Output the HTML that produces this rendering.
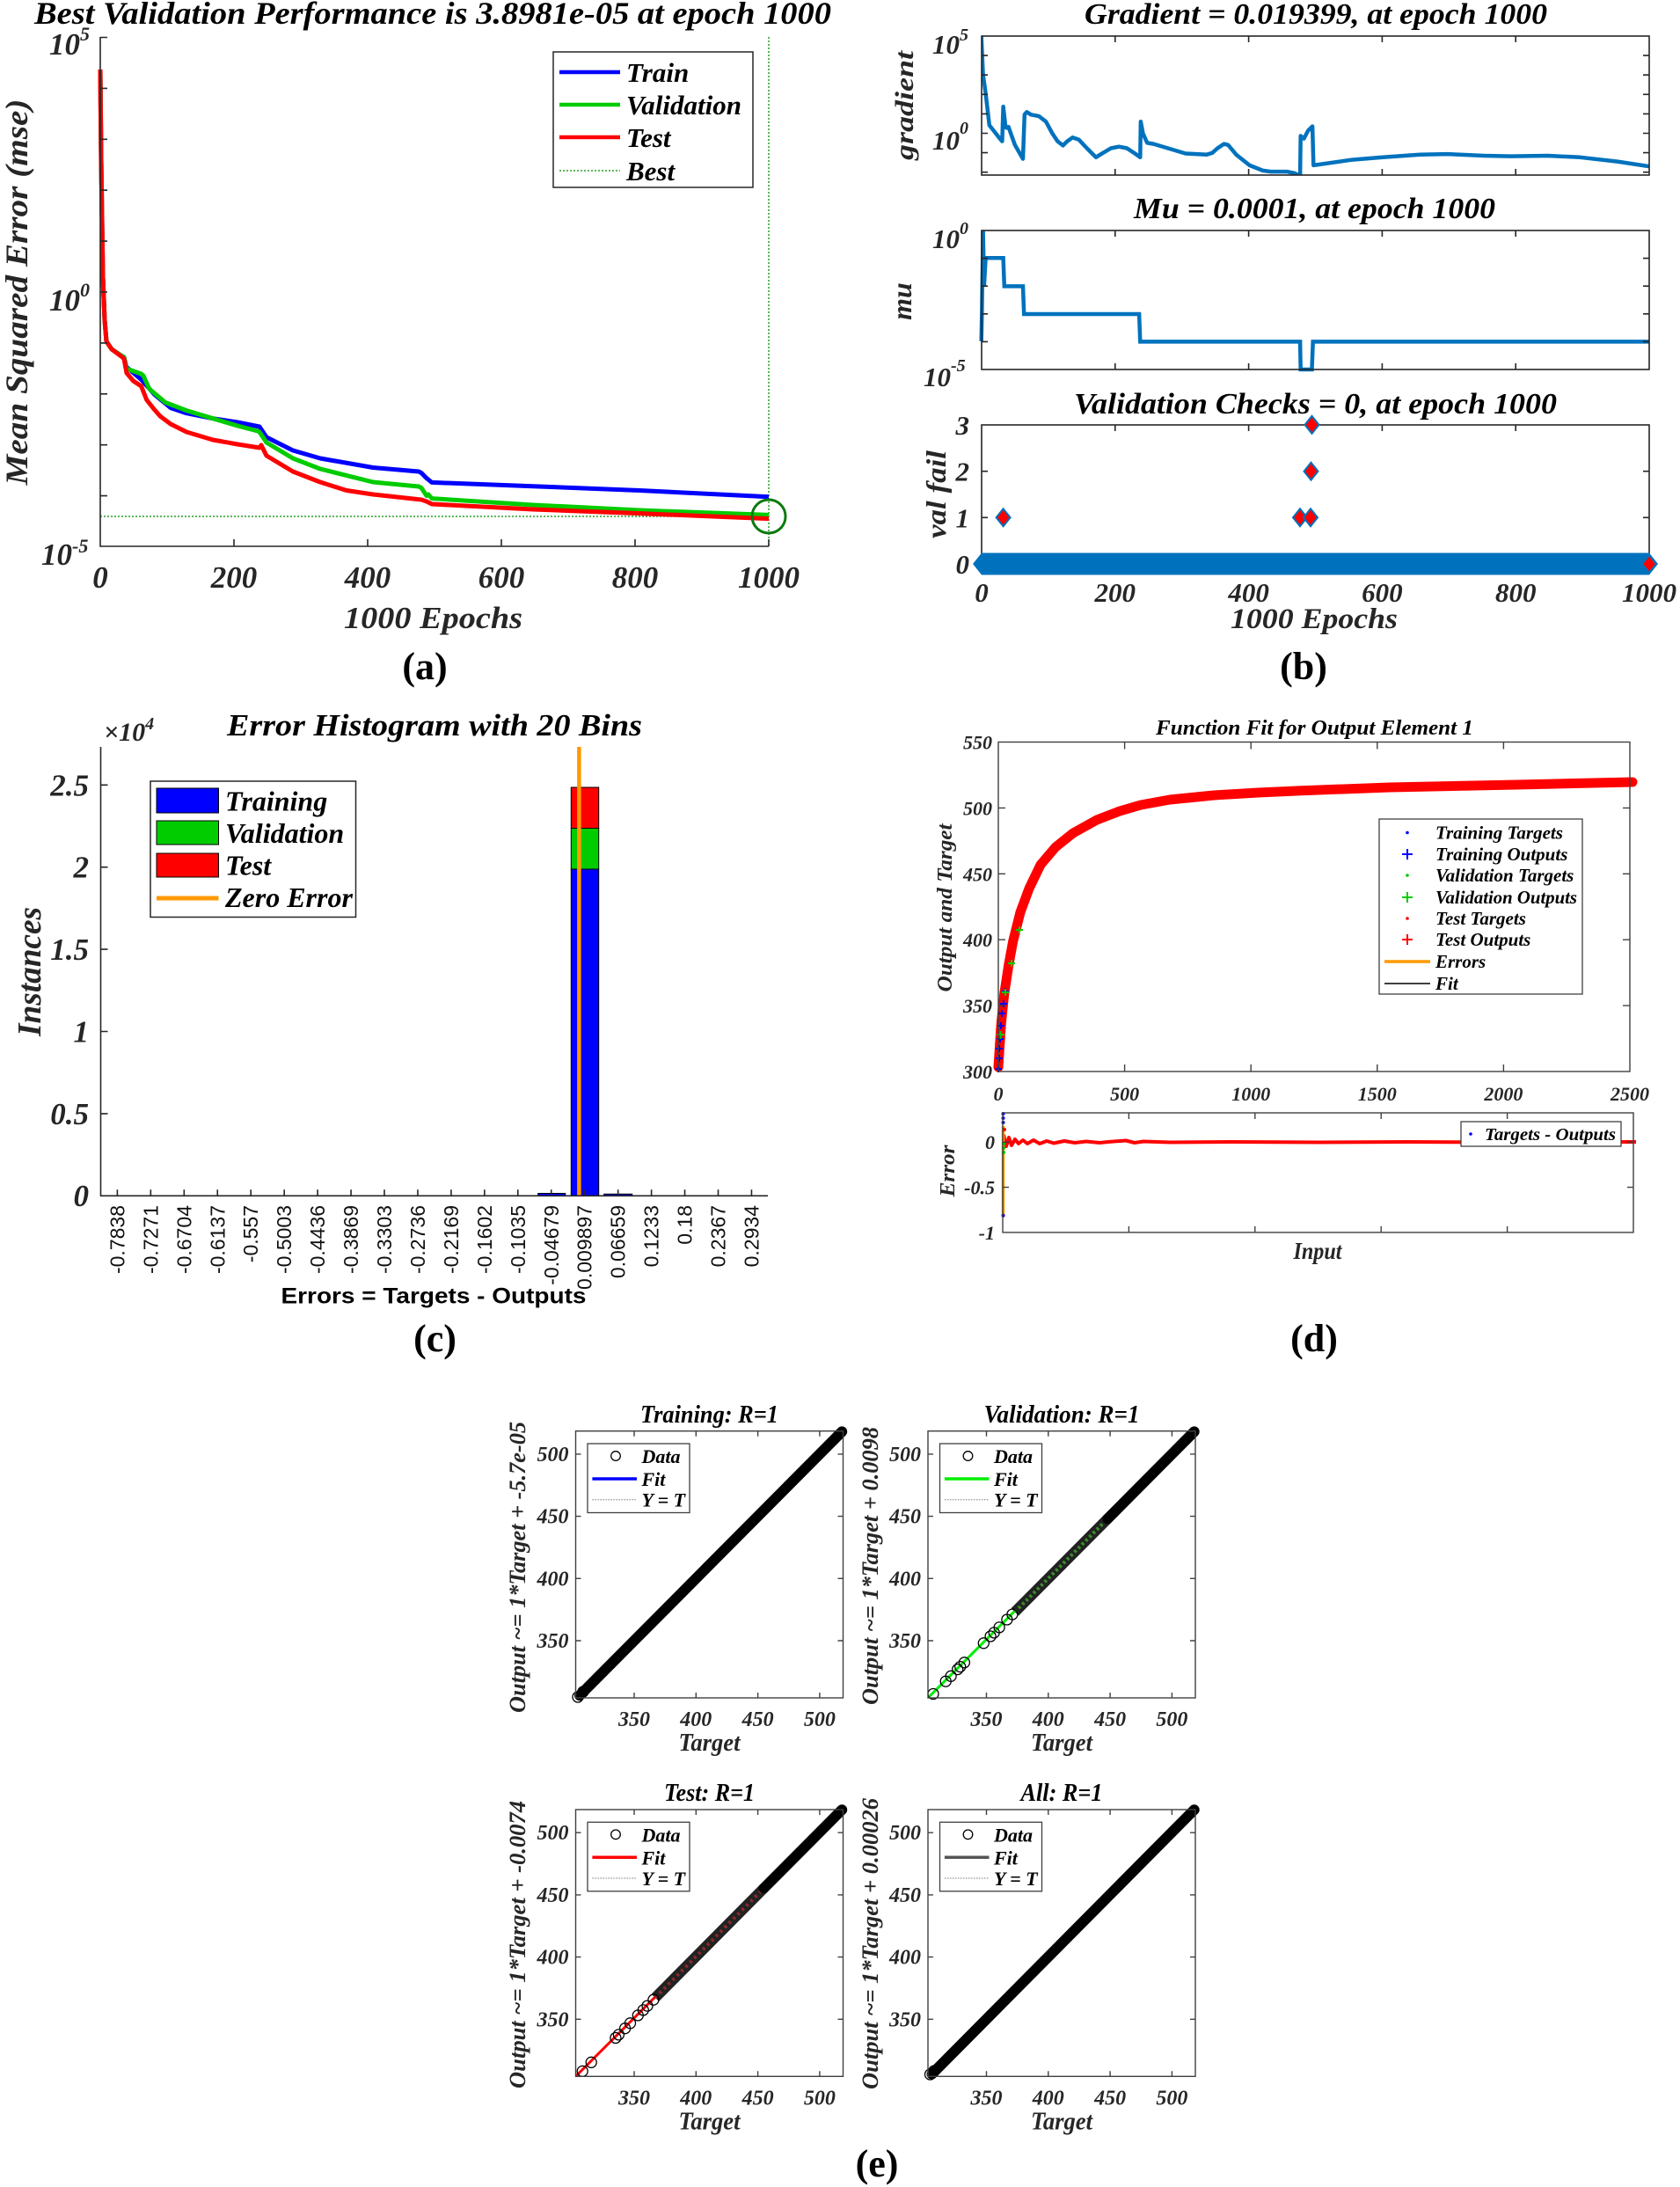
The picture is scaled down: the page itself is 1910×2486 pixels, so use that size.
<!DOCTYPE html>
<html><head><meta charset="utf-8"><style>
html,body{margin:0;padding:0;background:#fff;}
svg{display:block;}
.s{font-family:"Liberation Serif","DejaVu Serif",serif;font-weight:bold;font-style:italic;}
.r{font-family:"Liberation Serif","DejaVu Serif",serif;font-weight:bold;}
.a{font-family:"Liberation Sans",Arial,sans-serif;}
.k{fill:#262626;}
.ax{stroke:#262626;stroke-width:1.6;fill:none;}
.bx{stroke:#404040;stroke-width:1.4;fill:none;}
</style></head><body>
<svg width="1910" height="2486" viewBox="0 0 1910 2486" xmlns="http://www.w3.org/2000/svg">
<rect width="1910" height="2486" fill="#fff"/>
<defs>
<clipPath id="cg"><rect x="1116" y="41" width="759" height="158"/></clipPath>
<clipPath id="cTR"><rect x="1055" y="1626.7" width="304" height="303.3"/></clipPath>
<clipPath id="cBL"><rect x="654.5" y="2057" width="304" height="303.3"/></clipPath>
</defs>

<!-- ================= PANEL (a) ================= -->
<text class="s" x="492" y="27" font-size="36" text-anchor="middle" textLength="906" lengthAdjust="spacingAndGlyphs">Best Validation Performance is 3.8981e-05 at epoch 1000</text>
<line x1="114" y1="587" x2="874" y2="587" stroke="#22a022" stroke-width="1.5" stroke-dasharray="2,2"/>
<line x1="874" y1="42" x2="874" y2="621" stroke="#22a022" stroke-width="1.5" stroke-dasharray="2,2"/>
<polyline fill="none" stroke="#0000ff" stroke-width="5" stroke-linejoin="round" points="114,79 115,182 117,315 119,364 121,388 127,397 139,405 141,406 143.6,417 160.6,431.5 175.7,448.4 194,463.6 212,469.7 242,475.7 270,480 295,485 303,497 333,512 364,521 424,531.5 476,536 479,537.5 485,543.6 491,548.4 606,552.7 727,557.5 874,564.8"/>
<polyline fill="none" stroke="#00cc00" stroke-width="5" stroke-linejoin="round" points="114,79 115,182 117,315 119,364 121,388 127,397 139,405 141,406 143.6,419 160.6,425 163,427 169.7,442 188,457.5 212,466.6 242,475.7 270,484 293,490 295,491 303,503 333,521 364,533 424,548 476,553 479,554.5 485,563.6 487,562 491,566.6 606,574 727,580 874,585.4"/>
<polyline fill="none" stroke="#ff0000" stroke-width="5" stroke-linejoin="round" points="114,79 115,182 117,315 119,364 121,388 127,397 139,406 141,408 144,424 151.5,433 160.6,439 166.7,454.5 175,465 182,473 194,482 212,491 242,500 270,505 295,509 297,506 303,518 333,536 364,548 394,557.5 424,562 479,568 485,570 491,573 606,579 727,583.6 874,589.6"/>
<circle cx="874" cy="587" r="19" fill="none" stroke="#0b7a0b" stroke-width="3"/>
<path class="ax" d="M114 42V621H874"/>
<path class="ax" d="M114 42.5h8M114 100.4h8M114 158.3h8M114 216.2h8M114 274.1h8M114 332h8M114 389.9h8M114 447.8h8M114 505.7h8M114 563.6h8M266 621v-8M418 621v-8M570 621v-8M722 621v-8M874 621v-8"/>
<text class="s k" x="91" y="62" font-size="35" text-anchor="end">10</text>
<text class="s k" x="91" y="46" font-size="22">5</text>
<text class="s k" x="91" y="353" font-size="35" text-anchor="end">10</text>
<text class="s k" x="91" y="337" font-size="22">0</text>
<text class="s k" x="82" y="642" font-size="35" text-anchor="end">10</text>
<text class="s k" x="82" y="628" font-size="22">-5</text>
<g class="s k" font-size="35" text-anchor="middle">
<text x="114" y="668">0</text><text x="266" y="668">200</text><text x="418" y="668">400</text><text x="570" y="668">600</text><text x="722" y="668">800</text><text x="874" y="668">1000</text>
</g>
<text class="s k" x="492.5" y="714" font-size="35" text-anchor="middle" textLength="203" lengthAdjust="spacingAndGlyphs">1000 Epochs</text>
<text class="s k" transform="translate(31,332) rotate(-90)" font-size="36" text-anchor="middle" textLength="439" lengthAdjust="spacingAndGlyphs">Mean Squared Error  (mse)</text>
<text class="r" x="483" y="772" font-size="44" text-anchor="middle">(a)</text>
<rect x="629" y="59" width="227" height="154" fill="#fff" stroke="#262626" stroke-width="1.5"/>
<line x1="636" y1="82" x2="705" y2="82" stroke="#0000ff" stroke-width="4.5"/>
<line x1="636" y1="119" x2="705" y2="119" stroke="#00cc00" stroke-width="4.5"/>
<line x1="636" y1="156" x2="705" y2="156" stroke="#ff0000" stroke-width="4.5"/>
<line x1="636" y1="194" x2="705" y2="194" stroke="#22a022" stroke-width="1.5" stroke-dasharray="2,2"/>
<g class="s" font-size="31">
<text x="712" y="93">Train</text><text x="712" y="130">Validation</text><text x="712" y="167">Test</text><text x="712" y="205">Best</text>
</g>

<!-- ================= PANEL (b) ================= -->
<text class="s" x="1496" y="27" font-size="34" text-anchor="middle" textLength="526" lengthAdjust="spacingAndGlyphs">Gradient = 0.019399, at epoch 1000</text>
<polyline clip-path="url(#cg)" fill="none" stroke="#0072bd" stroke-width="4.5" stroke-linejoin="round" points="1115.7,41.2 1117.6,84.8 1120.6,106 1124.8,142.4 1129.7,148.5 1135.7,156.3 1139.4,160.6 1140.6,121.2 1143,142.4 1144.2,145.4 1146.6,144.2 1149.1,151.5 1153.9,164.8 1163,180.6 1164.8,130.3 1167.3,127.3 1172.1,130.3 1181.2,132.1 1189.1,138.2 1196.3,151.5 1202.4,160.6 1208.5,165.4 1213.3,160.6 1219.4,156.3 1226.6,158.8 1235.7,168.5 1246,178.8 1250.9,175.7 1263,168.5 1272.1,166.7 1281.2,168.5 1290.3,174.5 1296.3,178.8 1296.9,138.2 1299.4,151.5 1304.2,162.4 1311.5,163.6 1347.8,174.5 1372.1,175.7 1378.1,173.9 1384.2,168.5 1391.5,163.6 1396.3,164.8 1405.4,175.7 1420.6,187.9 1435.7,193.9 1444.8,195.1 1463,195.1 1472.1,197 1478.1,200 1478.7,154.5 1482.4,157.6 1487.2,148.5 1492.1,143.6 1493.3,187.9 1535.7,181.8 1572.1,178.8 1614.5,175.7 1644.8,175.1 1687.2,177 1717.5,177.6 1760,177 1796.3,178.8 1838.7,183.6 1875,189.1"/>
<rect x="1116" y="41" width="759" height="158" class="ax"/>
<path class="ax" d="M1267.8 41v7M1419.6 41v7M1571.4 41v7M1723.2 41v7M1267.8 199v-7M1419.6 199v-7M1571.4 199v-7M1723.2 199v-7M1116 63.1h7M1116 85.2h7M1116 107.3h7M1116 129.4h7M1116 151.5h7M1116 173.6h7M1116 195.7h7M1875 63.1h-7M1875 85.2h-7M1875 107.3h-7M1875 129.4h-7M1875 151.5h-7M1875 173.6h-7M1875 195.7h-7"/>
<text class="s k" x="1091" y="61" font-size="31" text-anchor="end">10</text>
<text class="s k" x="1091" y="46" font-size="20">5</text>
<text class="s k" x="1091" y="170" font-size="31" text-anchor="end">10</text>
<text class="s k" x="1091" y="152" font-size="20">0</text>
<text class="s k" transform="translate(1038,120) rotate(-90)" font-size="30" text-anchor="middle" textLength="124" lengthAdjust="spacingAndGlyphs">gradient</text>

<text class="s" x="1494.5" y="248" font-size="34" text-anchor="middle" textLength="411" lengthAdjust="spacingAndGlyphs">Mu = 0.0001, at epoch 1000</text>
<polyline fill="none" stroke="#0072bd" stroke-width="4.5" points="1115.7,387.8 1116.3,357.5 1117.6,262.4 1118.8,325.4 1120.6,293.3 1140.6,293.3 1141.8,325.4 1163,325.4 1164.2,357 1295.1,357 1296.3,388.4 1478.1,388.4 1478.7,420 1491.5,420 1492.7,388.4 1875,388.4"/>
<rect x="1116" y="262" width="759" height="158" class="ax"/>
<path class="ax" d="M1267.8 262v7M1419.6 262v7M1571.4 262v7M1723.2 262v7M1267.8 420v-7M1419.6 420v-7M1571.4 420v-7M1723.2 420v-7M1116 293.6h7M1116 325.2h7M1116 356.8h7M1116 388.4h7M1875 293.6h-7M1875 325.2h-7M1875 356.8h-7M1875 388.4h-7"/>
<text class="s k" x="1091" y="282" font-size="31" text-anchor="end">10</text>
<text class="s k" x="1091" y="266" font-size="20">0</text>
<text class="s k" x="1081" y="439" font-size="31" text-anchor="end">10</text>
<text class="s k" x="1081" y="422" font-size="20">-5</text>
<text class="s k" transform="translate(1036,342.5) rotate(-90)" font-size="32" text-anchor="middle">mu</text>

<text class="s" x="1495.5" y="470" font-size="34" text-anchor="middle" textLength="549" lengthAdjust="spacingAndGlyphs">Validation Checks = 0, at epoch 1000</text>
<rect x="1116" y="483" width="759" height="158" class="ax"/>
<path class="ax" d="M1267.8 483v7M1419.6 483v7M1571.4 483v7M1723.2 483v7M1116 535.7h7M1116 588.3h7M1875 535.7h-7M1875 588.3h-7"/>
<polygon points="1106,641 1116,628.5 1875,628.5 1885,641 1875,653.5 1116,653.5" fill="#0072bd"/>
<g fill="#ff0000" stroke="#0072bd" stroke-width="2">
<path d="M1140.6 578.3L1148.6 588.3L1140.6 598.3L1132.6 588.3Z"/>
<path d="M1478 578.3L1486 588.3L1478 598.3L1470 588.3Z"/>
<path d="M1490 578.3L1498 588.3L1490 598.3L1482 588.3Z"/>
<path d="M1490.5 525.7L1498.5 535.7L1490.5 545.7L1482.5 535.7Z"/>
<path d="M1491.5 472.9L1499.5 482.9L1491.5 492.9L1483.5 482.9Z"/>
<path d="M1875 631L1883 641L1875 651L1867 641Z"/>
</g>
<g class="s k" font-size="31" text-anchor="end">
<text x="1102" y="494">3</text><text x="1102" y="546.7">2</text><text x="1102" y="599.3">1</text><text x="1102" y="652">0</text>
</g>
<text class="s k" transform="translate(1075,562) rotate(-90)" font-size="32" text-anchor="middle" textLength="100" lengthAdjust="spacingAndGlyphs">val fail</text>
<g class="s k" font-size="31" text-anchor="middle">
<text x="1116" y="684">0</text><text x="1267.8" y="684">200</text><text x="1419.6" y="684">400</text><text x="1571.4" y="684">600</text><text x="1723.2" y="684">800</text><text x="1875" y="684">1000</text>
</g>
<text class="s k" x="1494" y="714" font-size="33" text-anchor="middle" textLength="190" lengthAdjust="spacingAndGlyphs">1000 Epochs</text>
<text class="r" x="1482" y="772" font-size="44" text-anchor="middle">(b)</text>

<!-- ================= PANEL (c) ================= -->
<text class="s" x="494" y="836" font-size="35" text-anchor="middle" textLength="472" lengthAdjust="spacingAndGlyphs">Error Histogram with 20 Bins</text>
<text class="s k" x="118" y="842" font-size="30">×10<tspan font-size="20" dy="-13">4</tspan></text>
<rect x="649.3" y="988" width="31.4" height="371.3" fill="#0000ff" stroke="#000" stroke-width="1"/>
<rect x="649.3" y="941.5" width="31.4" height="46.5" fill="#00cc00" stroke="#000" stroke-width="1"/>
<rect x="649.3" y="895" width="31.4" height="46.5" fill="#ff0000" stroke="#000" stroke-width="1"/>
<rect x="611.7" y="1356.5" width="31" height="2.8" fill="#0000ff" stroke="#000" stroke-width="1"/>
<rect x="686.7" y="1357.3" width="32" height="2" fill="#0000ff" stroke="#000" stroke-width="1"/>
<line x1="658.4" y1="849" x2="658.4" y2="1359" stroke="#ff9900" stroke-width="4.5"/>
<path class="ax" d="M114.5 849V1359.3H873"/>
<path class="ax" d="M114.5 1265.9h8M114.5 1172.5h8M114.5 1079.1h8M114.5 985.7h8M114.5 892.3h8M133.4 1359.3v-7M171.35 1359.3v-7M209.3 1359.3v-7M247.25 1359.3v-7M285.2 1359.3v-7M323.15 1359.3v-7M361.1 1359.3v-7M399.05 1359.3v-7M437 1359.3v-7M474.95 1359.3v-7M512.9 1359.3v-7M550.85 1359.3v-7M588.8 1359.3v-7M626.75 1359.3v-7M664.7 1359.3v-7M702.65 1359.3v-7M740.6 1359.3v-7M778.55 1359.3v-7M816.5 1359.3v-7M854.45 1359.3v-7"/>
<g class="s k" font-size="35" text-anchor="end">
<text x="101" y="1371">0</text><text x="101" y="1278">0.5</text><text x="101" y="1184.5">1</text><text x="101" y="1091">1.5</text><text x="101" y="997.7">2</text><text x="101" y="904.3">2.5</text>
</g>
<g class="a" font-size="23" text-anchor="end" fill="#111">
<text transform="translate(141.4,1370) rotate(-90)">-0.7838</text>
<text transform="translate(179.35,1370) rotate(-90)">-0.7271</text>
<text transform="translate(217.3,1370) rotate(-90)">-0.6704</text>
<text transform="translate(255.25,1370) rotate(-90)">-0.6137</text>
<text transform="translate(293.2,1370) rotate(-90)">-0.557</text>
<text transform="translate(331.15,1370) rotate(-90)">-0.5003</text>
<text transform="translate(369.1,1370) rotate(-90)">-0.4436</text>
<text transform="translate(407.05,1370) rotate(-90)">-0.3869</text>
<text transform="translate(445,1370) rotate(-90)">-0.3303</text>
<text transform="translate(482.95,1370) rotate(-90)">-0.2736</text>
<text transform="translate(520.9,1370) rotate(-90)">-0.2169</text>
<text transform="translate(558.85,1370) rotate(-90)">-0.1602</text>
<text transform="translate(596.8,1370) rotate(-90)">-0.1035</text>
<text transform="translate(634.75,1370) rotate(-90)">-0.04679</text>
<text transform="translate(672.7,1370) rotate(-90)">0.009897</text>
<text transform="translate(710.65,1370) rotate(-90)">0.06659</text>
<text transform="translate(748.6,1370) rotate(-90)">0.1233</text>
<text transform="translate(786.55,1370) rotate(-90)">0.18</text>
<text transform="translate(824.5,1370) rotate(-90)">0.2367</text>
<text transform="translate(862.45,1370) rotate(-90)">0.2934</text>
</g>
<text class="a" x="493" y="1481.5" font-size="25" font-weight="bold" text-anchor="middle" textLength="347" lengthAdjust="spacingAndGlyphs">Errors = Targets - Outputs</text>
<text class="s k" transform="translate(46,1104.5) rotate(-90)" font-size="38" text-anchor="middle" textLength="147" lengthAdjust="spacingAndGlyphs">Instances</text>
<text class="r" x="494.5" y="1536" font-size="44" text-anchor="middle">(c)</text>
<rect x="171" y="888" width="233.5" height="154.5" fill="#fff" stroke="#262626" stroke-width="1.5"/>
<rect x="178" y="896" width="70.5" height="28" fill="#0000ff" stroke="#000" stroke-width="1"/>
<rect x="178" y="933" width="70.5" height="27" fill="#00cc00" stroke="#000" stroke-width="1"/>
<rect x="178" y="970" width="70.5" height="27" fill="#ff0000" stroke="#000" stroke-width="1"/>
<line x1="178" y1="1021" x2="248.5" y2="1021" stroke="#ff9900" stroke-width="5"/>
<g class="s" font-size="32">
<text x="256" y="921.6">Training</text><text x="256" y="958">Validation</text><text x="256" y="994.7">Test</text><text x="256" y="1031">Zero Error</text>
</g>

<!-- ================= PANEL (d) ================= -->
<text class="s" x="1494.5" y="835" font-size="24" text-anchor="middle" textLength="361" lengthAdjust="spacingAndGlyphs">Function Fit for Output Element 1</text>
<polyline fill="none" stroke="#ff0000" stroke-width="11" stroke-linejoin="round" stroke-linecap="round" points="1135,1213 1136.5,1190 1138.3,1163 1141.7,1130 1146.7,1097 1151.7,1070 1160,1037 1170,1010 1183,983 1200,963 1220,947 1247,932 1273,922 1297,915 1330,909 1380,904 1430,901 1480,898.7 1580,895 1725,892 1856,889"/>
<g stroke="#0000ff" stroke-width="2">
<path d="M1131 1215h8M1135 1211v8M1132 1203h8M1136 1199v8M1132 1192h8M1136 1188v8M1133 1181h8M1137 1177v8M1134 1166h8M1138 1162v8M1135 1152h8M1139 1148v8M1137 1141h8M1141 1137v8M1139 1127h8M1143 1123v8"/>
</g>
<g stroke="#00cc00" stroke-width="2">
<path d="M1133 1176h9M1137.5 1172v9M1139 1128h8M1143 1124v8M1146 1095h8M1150 1091v8M1155 1057h8M1159 1053v8"/>
</g>
<rect x="1135" y="843.5" width="718" height="374.5" class="bx"/>
<path class="bx" d="M1278.6 843.5v8M1422.2 843.5v8M1565.8 843.5v8M1709.4 843.5v8M1278.6 1218v-8M1422.2 1218v-8M1565.8 1218v-8M1709.4 1218v-8M1135 918.4h8M1135 993.3h8M1135 1068.2h8M1135 1143.1h8M1853 918.4h-8M1853 993.3h-8M1853 1068.2h-8M1853 1143.1h-8"/>
<g class="s k" font-size="22" text-anchor="end">
<text x="1128" y="851.5">550</text><text x="1128" y="926.4">500</text><text x="1128" y="1001.3">450</text><text x="1128" y="1076.2">400</text><text x="1128" y="1151.1">350</text><text x="1128" y="1226">300</text>
</g>
<g class="s k" font-size="22" text-anchor="middle">
<text x="1135" y="1251">0</text><text x="1278.6" y="1251">500</text><text x="1422.2" y="1251">1000</text><text x="1565.8" y="1251">1500</text><text x="1709.4" y="1251">2000</text><text x="1853" y="1251">2500</text>
</g>
<text class="s k" transform="translate(1082,1032) rotate(-90)" font-size="24" text-anchor="middle" textLength="191" lengthAdjust="spacingAndGlyphs">Output and Target</text>
<rect x="1568" y="931" width="231" height="199" fill="#fff" stroke="#404040" stroke-width="1.3"/>
<circle cx="1600" cy="946.5" r="1.8" fill="#0000ff"/>
<path d="M1594 971h12M1600 965v12" stroke="#0000ff" stroke-width="2"/>
<circle cx="1600" cy="995" r="1.8" fill="#00cc00"/>
<path d="M1594 1020h12M1600 1014v12" stroke="#00cc00" stroke-width="2"/>
<circle cx="1600" cy="1044" r="1.8" fill="#ff0000"/>
<path d="M1594 1068h12M1600 1062v12" stroke="#ff0000" stroke-width="2"/>
<line x1="1574" y1="1093" x2="1626" y2="1093" stroke="#ff9900" stroke-width="3.5"/>
<line x1="1574" y1="1118" x2="1626" y2="1118" stroke="#000" stroke-width="1.6"/>
<g class="s" font-size="21">
<text x="1632" y="953.5">Training Targets</text>
<text x="1632" y="978">Training Outputs</text>
<text x="1632" y="1002">Validation Targets</text>
<text x="1632" y="1027" textLength="161" lengthAdjust="spacingAndGlyphs">Validation Outputs</text>
<text x="1632" y="1051">Test Targets</text>
<text x="1632" y="1075">Test Outputs</text>
<text x="1632" y="1100">Errors</text>
<text x="1632" y="1125">Fit</text>
</g>
<!-- error subplot -->
<polyline fill="none" stroke="#ff0000" stroke-width="4" stroke-linejoin="round" points="1141,1290 1144,1303 1147,1293 1150,1302 1154,1295 1158,1300 1163,1296 1168,1300 1175,1296 1182,1300 1190,1297 1198,1299.5 1210,1297 1222,1299 1235,1297.5 1250,1299 1260,1298 1280,1296.5 1290,1299 1300,1297.5 1330,1298.5 1400,1298 1500,1298.5 1600,1298 1700,1298.5 1860,1298"/>
<line x1="1140.5" y1="1280" x2="1140.5" y2="1381.7" stroke="#ff9900" stroke-width="3.5"/>
<g fill="#0000ff"><circle cx="1140.5" cy="1266" r="2"/><circle cx="1140.5" cy="1271" r="2"/><circle cx="1140.5" cy="1276" r="2"/><circle cx="1140.5" cy="1381.7" r="2"/></g>
<g fill="#00cc00"><circle cx="1141" cy="1300" r="2"/><circle cx="1141" cy="1305" r="2"/><circle cx="1141" cy="1310" r="2"/></g>
<circle cx="1142" cy="1284" r="2" fill="#ff0000"/>
<rect x="1140" y="1265" width="717" height="135.9" class="bx"/>
<path class="bx" d="M1283.4 1265v7M1426.8 1265v7M1570.2 1265v7M1713.6 1265v7M1283.4 1400.9v-7M1426.8 1400.9v-7M1570.2 1400.9v-7M1713.6 1400.9v-7M1140 1298.3h7M1140 1349.6h7M1857 1298.3h-7M1857 1349.6h-7"/>
<g class="s k" font-size="22" text-anchor="end">
<text x="1131" y="1306">0</text><text x="1131" y="1357.6">-0.5</text><text x="1131" y="1409">-1</text>
</g>
<rect x="1661" y="1275" width="182" height="28" fill="#fff" stroke="#404040" stroke-width="1.3"/>
<circle cx="1672" cy="1289" r="1.8" fill="#0000ff"/>
<text class="s" x="1688" y="1296" font-size="20" textLength="149" lengthAdjust="spacingAndGlyphs">Targets - Outputs</text>
<text class="s k" transform="translate(1085,1331) rotate(-90)" font-size="24" text-anchor="middle" textLength="59" lengthAdjust="spacingAndGlyphs">Error</text>
<text class="s k" x="1498" y="1431" font-size="27" text-anchor="middle" textLength="55" lengthAdjust="spacingAndGlyphs">Input</text>
<text class="r" x="1494" y="1536" font-size="44" text-anchor="middle">(d)</text>

<!-- ================= PANEL (e) ================= -->
<!-- Training (TL) -->
<text class="s" x="806.5" y="1617" font-size="29" text-anchor="middle" textLength="157" lengthAdjust="spacingAndGlyphs">Training: R=1</text>
<line x1="655.5" y1="1929" x2="958" y2="1627" stroke="#0000ff" stroke-width="3"/>
<line x1="659" y1="1927.3" x2="957.2" y2="1627.4" stroke="#000" stroke-width="12" stroke-linecap="round"/>
<g fill="none" stroke="#000" stroke-width="1.3"><circle cx="657" cy="1929" r="6"/><circle cx="663" cy="1923" r="6"/></g>
<rect x="654.5" y="1626.7" width="304" height="303.3" class="bx"/>
<path class="bx" d="M721 1626.7v6M791.3 1626.7v6M861.6 1626.7v6M931.9 1626.7v6M721 1930v-6M791.3 1930v-6M861.6 1930v-6M931.9 1930v-6M654.5 1865h6M654.5 1794.3h6M654.5 1723.6h6M654.5 1652.9h6M958.5 1865h-6M958.5 1794.3h-6M958.5 1723.6h-6M958.5 1652.9h-6"/>
<rect x="668" y="1641" width="116" height="78.5" fill="#fff" stroke="#404040" stroke-width="1.3"/>
<circle cx="700" cy="1655" r="5.3" fill="none" stroke="#000" stroke-width="1.3"/>
<line x1="673.4" y1="1681" x2="724" y2="1681" stroke="#0000ff" stroke-width="3.5"/>
<line x1="673.4" y1="1704.7" x2="724" y2="1704.7" stroke="#777" stroke-width="1" stroke-dasharray="1.5,1.5"/>
<g class="s" font-size="22"><text x="729.5" y="1663">Data</text><text x="729.5" y="1689">Fit</text><text x="729.5" y="1712.7">Y = T</text></g>
<g class="s k" font-size="24" text-anchor="middle"><text x="721" y="1962">350</text><text x="791.3" y="1962">400</text><text x="861.6" y="1962">450</text><text x="931.9" y="1962">500</text></g>
<g class="s k" font-size="24" text-anchor="end"><text x="646.5" y="1873">350</text><text x="646.5" y="1802.3">400</text><text x="646.5" y="1731.6">450</text><text x="646.5" y="1660.9">500</text></g>
<text class="s k" x="806.5" y="1990" font-size="28" text-anchor="middle" textLength="70" lengthAdjust="spacingAndGlyphs">Target</text>
<text class="s k" transform="translate(597,1781.5) rotate(-90)" font-size="26" text-anchor="middle" textLength="331" lengthAdjust="spacingAndGlyphs">Output ~= 1*Target + -5.7e-05</text>

<!-- Validation (TR) -->
<text class="s" x="1207" y="1617" font-size="29" text-anchor="middle" textLength="177" lengthAdjust="spacingAndGlyphs">Validation: R=1</text>
<line clip-path="url(#cTR)" x1="1055" y1="1930" x2="1360" y2="1625" stroke="#00ee00" stroke-width="3"/>
<line x1="1153.8" y1="1832.4" x2="1259.3" y2="1726.4" stroke="#222" stroke-width="12"/>
<line x1="1153.8" y1="1832.4" x2="1259.3" y2="1726.4" stroke="#3a8a2a" stroke-width="4" stroke-dasharray="3,3"/>
<line x1="1259.3" y1="1726.4" x2="1357.7" y2="1627.4" stroke="#000" stroke-width="12" stroke-linecap="round"/>
<g fill="none" stroke="#000" stroke-width="1.3">
<circle cx="1061" cy="1925.5" r="6"/><circle cx="1075.2" cy="1911.2" r="6"/><circle cx="1081.1" cy="1905.3" r="6"/><circle cx="1088.7" cy="1897.6" r="6"/><circle cx="1091.7" cy="1894.6" r="6"/><circle cx="1096.4" cy="1889.8" r="6"/><circle cx="1118.3" cy="1867.8" r="6"/><circle cx="1126.1" cy="1860" r="6"/><circle cx="1130.2" cy="1855.9" r="6"/><circle cx="1136.1" cy="1849.9" r="6"/><circle cx="1144.9" cy="1841" r="6"/><circle cx="1150.9" cy="1835.1" r="6"/>
</g>
<rect x="1055" y="1626.7" width="304" height="303.3" class="bx"/>
<path class="bx" d="M1121.5 1626.7v6M1191.8 1626.7v6M1262.1 1626.7v6M1332.4 1626.7v6M1121.5 1930v-6M1191.8 1930v-6M1262.1 1930v-6M1332.4 1930v-6M1055 1865h6M1055 1794.3h6M1055 1723.6h6M1055 1652.9h6M1359 1865h-6M1359 1794.3h-6M1359 1723.6h-6M1359 1652.9h-6"/>
<rect x="1068.5" y="1641" width="116" height="78.5" fill="#fff" stroke="#404040" stroke-width="1.3"/>
<circle cx="1100.5" cy="1655" r="5.3" fill="none" stroke="#000" stroke-width="1.3"/>
<line x1="1073.9" y1="1681" x2="1124.5" y2="1681" stroke="#00ee00" stroke-width="3.5"/>
<line x1="1073.9" y1="1704.7" x2="1124.5" y2="1704.7" stroke="#777" stroke-width="1" stroke-dasharray="1.5,1.5"/>
<g class="s" font-size="22"><text x="1130" y="1663">Data</text><text x="1130" y="1689">Fit</text><text x="1130" y="1712.7">Y = T</text></g>
<g class="s k" font-size="24" text-anchor="middle"><text x="1121.5" y="1962">350</text><text x="1191.8" y="1962">400</text><text x="1262.1" y="1962">450</text><text x="1332.4" y="1962">500</text></g>
<g class="s k" font-size="24" text-anchor="end"><text x="1047" y="1873">350</text><text x="1047" y="1802.3">400</text><text x="1047" y="1731.6">450</text><text x="1047" y="1660.9">500</text></g>
<text class="s k" x="1207" y="1990" font-size="28" text-anchor="middle" textLength="70" lengthAdjust="spacingAndGlyphs">Target</text>
<text class="s k" transform="translate(998,1780) rotate(-90)" font-size="26" text-anchor="middle" textLength="316" lengthAdjust="spacingAndGlyphs">Output ~= 1*Target + 0.0098</text>

<!-- Test (BL) -->
<text class="s" x="806.5" y="2047" font-size="29" text-anchor="middle" textLength="103" lengthAdjust="spacingAndGlyphs">Test: R=1</text>
<line clip-path="url(#cBL)" x1="654.5" y1="2360.3" x2="960" y2="2055" stroke="#ff0000" stroke-width="3"/>
<line x1="744.9" y1="2270.8" x2="868.5" y2="2146.3" stroke="#222" stroke-width="12"/>
<line x1="744.9" y1="2270.8" x2="868.5" y2="2146.3" stroke="#8a2a2a" stroke-width="4" stroke-dasharray="3,4"/>
<line x1="868.5" y1="2146.3" x2="957.2" y2="2057.2" stroke="#000" stroke-width="12" stroke-linecap="round"/>
<g fill="none" stroke="#000" stroke-width="1.3">
<circle cx="662.2" cy="2354.4" r="6"/><circle cx="672.2" cy="2344.3" r="6"/><circle cx="699.9" cy="2316.5" r="6"/><circle cx="703.4" cy="2312.9" r="6"/><circle cx="710.6" cy="2305.7" r="6"/><circle cx="716.5" cy="2299.8" r="6"/><circle cx="725.3" cy="2290.9" r="6"/><circle cx="731.3" cy="2284.9" r="6"/><circle cx="736" cy="2280.1" r="6"/><circle cx="742.9" cy="2273.2" r="6"/>
</g>
<rect x="654.5" y="2057" width="304" height="303.3" class="bx"/>
<path class="bx" d="M721 2057v6M791.3 2057v6M861.6 2057v6M931.9 2057v6M721 2360.3v-6M791.3 2360.3v-6M861.6 2360.3v-6M931.9 2360.3v-6M654.5 2295.3h6M654.5 2224.6h6M654.5 2153.9h6M654.5 2083.2h6M958.5 2295.3h-6M958.5 2224.6h-6M958.5 2153.9h-6M958.5 2083.2h-6"/>
<rect x="668" y="2071.3" width="116" height="78.5" fill="#fff" stroke="#404040" stroke-width="1.3"/>
<circle cx="700" cy="2085.3" r="5.3" fill="none" stroke="#000" stroke-width="1.3"/>
<line x1="673.4" y1="2111.3" x2="724" y2="2111.3" stroke="#ff0000" stroke-width="3.5"/>
<line x1="673.4" y1="2135" x2="724" y2="2135" stroke="#777" stroke-width="1" stroke-dasharray="1.5,1.5"/>
<g class="s" font-size="22"><text x="729.5" y="2093.3">Data</text><text x="729.5" y="2119.3">Fit</text><text x="729.5" y="2143">Y = T</text></g>
<g class="s k" font-size="24" text-anchor="middle"><text x="721" y="2392.3">350</text><text x="791.3" y="2392.3">400</text><text x="861.6" y="2392.3">450</text><text x="931.9" y="2392.3">500</text></g>
<g class="s k" font-size="24" text-anchor="end"><text x="646.5" y="2303.3">350</text><text x="646.5" y="2232.6">400</text><text x="646.5" y="2161.9">450</text><text x="646.5" y="2091.2">500</text></g>
<text class="s k" x="806.5" y="2420.5" font-size="28" text-anchor="middle" textLength="70" lengthAdjust="spacingAndGlyphs">Target</text>
<text class="s k" transform="translate(597,2210.5) rotate(-90)" font-size="26" text-anchor="middle" textLength="327" lengthAdjust="spacingAndGlyphs">Output ~= 1*Target + -0.0074</text>

<!-- All (BR) -->
<text class="s" x="1207" y="2047" font-size="29" text-anchor="middle" textLength="93" lengthAdjust="spacingAndGlyphs">All: R=1</text>
<line x1="1059.5" y1="2357.6" x2="1357.7" y2="2057.2" stroke="#000" stroke-width="12" stroke-linecap="round"/>
<g fill="none" stroke="#000" stroke-width="1.3"><circle cx="1057.5" cy="2358" r="6"/><circle cx="1062" cy="2354" r="6"/></g>
<rect x="1055" y="2057" width="304" height="303.3" class="bx"/>
<path class="bx" d="M1121.5 2057v6M1191.8 2057v6M1262.1 2057v6M1332.4 2057v6M1121.5 2360.3v-6M1191.8 2360.3v-6M1262.1 2360.3v-6M1332.4 2360.3v-6M1055 2295.3h6M1055 2224.6h6M1055 2153.9h6M1055 2083.2h6M1359 2295.3h-6M1359 2224.6h-6M1359 2153.9h-6M1359 2083.2h-6"/>
<rect x="1068.5" y="2071.3" width="116" height="78.5" fill="#fff" stroke="#404040" stroke-width="1.3"/>
<circle cx="1100.5" cy="2085.3" r="5.3" fill="none" stroke="#000" stroke-width="1.3"/>
<line x1="1073.9" y1="2111.3" x2="1124.5" y2="2111.3" stroke="#555" stroke-width="3.5"/>
<line x1="1073.9" y1="2135" x2="1124.5" y2="2135" stroke="#777" stroke-width="1" stroke-dasharray="1.5,1.5"/>
<g class="s" font-size="22"><text x="1130" y="2093.3">Data</text><text x="1130" y="2119.3">Fit</text><text x="1130" y="2143">Y = T</text></g>
<g class="s k" font-size="24" text-anchor="middle"><text x="1121.5" y="2392.3">350</text><text x="1191.8" y="2392.3">400</text><text x="1262.1" y="2392.3">450</text><text x="1332.4" y="2392.3">500</text></g>
<g class="s k" font-size="24" text-anchor="end"><text x="1047" y="2303.3">350</text><text x="1047" y="2232.6">400</text><text x="1047" y="2161.9">450</text><text x="1047" y="2091.2">500</text></g>
<text class="s k" x="1207" y="2420.5" font-size="28" text-anchor="middle" textLength="70" lengthAdjust="spacingAndGlyphs">Target</text>
<text class="s k" transform="translate(998,2209.5) rotate(-90)" font-size="26" text-anchor="middle" textLength="331" lengthAdjust="spacingAndGlyphs">Output ~= 1*Target + 0.00026</text>

<text class="r" x="997" y="2474" font-size="44" text-anchor="middle">(e)</text>
</svg>
</body></html>
